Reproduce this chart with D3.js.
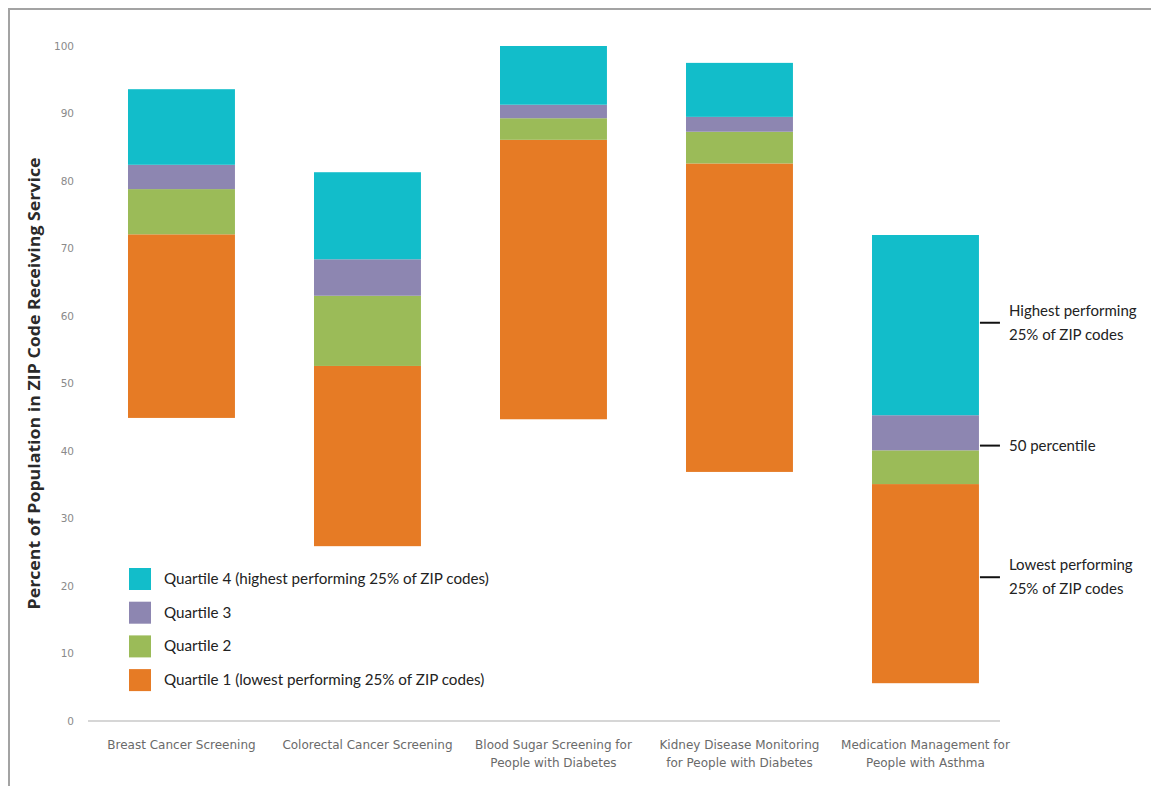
<!DOCTYPE html>
<html><head><meta charset="utf-8">
<script src="https://cdn.jsdelivr.net/npm/d3@7"></script>
<style>
html,body{margin:0;padding:0;background:#fff;}
svg{display:block;}
</style></head>
<body>
<svg id="chart" width="1151" height="786"></svg>
<script>
const categories = [
  ["Breast Cancer Screening"],
  ["Colorectal Cancer Screening"],
  ["Blood Sugar Screening for", "People with Diabetes"],
  ["Kidney Disease Monitoring", "for People with Diabetes"],
  ["Medication Management for", "People with Asthma"]
];
const minValues = [44.9, 25.9, 44.7, 36.9, 5.6];
const p25Values = [72.1, 52.6, 86.1, 82.6, 35.1];
const p50Values = [78.8, 63.0, 89.3, 87.3, 40.1];
const p75Values = [82.4, 68.4, 91.3, 89.5, 45.3];
const maxValues = [93.6, 81.3, 100.0, 97.5, 72.0];
const yTicks = [0, 10, 20, 30, 40, 50, 60, 70, 80, 90, 100];
const legendLabels = [
  "Quartile 4 (highest performing 25% of ZIP codes)",
  "Quartile 3",
  "Quartile 2",
  "Quartile 1 (lowest performing 25% of ZIP codes)"
];
const annotations = [
  {lines: ["Highest performing", "25% of ZIP codes"], value: 59},
  {lines: ["50 percentile"], value: 40.8},
  {lines: ["Lowest performing", "25% of ZIP codes"], value: 21.3}
];
const colors = {q4: "#12bdca", q3: "#8d86b1", q2: "#9bbb58", q1: "#e67b25"};

const svg = d3.select("#chart");

// frame
svg.append("path").attr("d", "M9,786 L9,9 L1151,9").attr("fill", "none")
  .attr("stroke", "#a3a3a3").attr("stroke-width", 2);

const x = d3.scaleBand().domain(d3.range(categories.length))
  .range([90.8, 1016.15]).paddingInner(0.425).paddingOuter(0.2);
const y = d3.scaleLinear().domain([0, 100]).range([721, 46]);

// y tick labels
const yAxis = d3.axisLeft(y).tickValues(yTicks).tickSize(0).tickPadding(0);
const gy = svg.append("g").attr("transform", "translate(74,0)").call(yAxis);
gy.select(".domain").remove();
gy.selectAll("text").attr("font-family", "DejaVu Sans").attr("font-size", 10.5)
  .attr("fill", "#8a8a8a");

// baseline
svg.append("line").attr("x1", 88).attr("x2", 1000).attr("y1", y(0)).attr("y2", y(0))
  .attr("stroke", "#c8c8c8").attr("stroke-width", 1.5);

// y title
svg.append("text")
  .attr("transform", `translate(40,${(y(0)+y(100))/2}) rotate(-90)`)
  .attr("text-anchor", "middle")
  .attr("font-family", "Open Sans").attr("font-weight", "bold").attr("font-size", 15.5)
  .attr("fill", "#2a2a2a")
  .attr("textLength", 452).attr("lengthAdjust", "spacingAndGlyphs")
  .text("Percent of Population in ZIP Code Receiving Service");

// segments
const segs = [];
categories.forEach((c, i) => {
  segs.push({i, lo: minValues[i], hi: p25Values[i], color: colors.q1});
  segs.push({i, lo: p25Values[i], hi: p50Values[i], color: colors.q2});
  segs.push({i, lo: p50Values[i], hi: p75Values[i], color: colors.q3});
  segs.push({i, lo: p75Values[i], hi: maxValues[i], color: colors.q4});
});
svg.append("g").selectAll("rect").data(segs).join("rect")
  .attr("x", d => x(d.i)).attr("width", x.bandwidth())
  .attr("y", d => y(d.hi)).attr("height", d => y(d.lo) - y(d.hi))
  .attr("fill", d => d.color);

// x labels
const gx = svg.append("g");
categories.forEach((lines, i) => {
  const t = gx.append("text").attr("x", x(i) + x.bandwidth()/2).attr("y", 749)
    .attr("text-anchor", "middle").attr("font-family", "DejaVu Sans")
    .attr("font-size", 12).attr("fill", "#6a6a6a");
  lines.forEach((l, k) => t.append("tspan").attr("x", x(i) + x.bandwidth()/2)
    .attr("dy", k === 0 ? 0 : 18).text(l));
});

// legend
const legColors = [colors.q4, colors.q3, colors.q2, colors.q1];
const leg = svg.append("g");
legendLabels.forEach((lab, k) => {
  const yy = 568 + k * 33.7;
  leg.append("rect").attr("x", 129).attr("y", yy).attr("width", 22).attr("height", 22)
    .attr("fill", legColors[k]);
  leg.append("text").attr("x", 164).attr("y", yy + 16)
    .attr("font-family", "Lato").attr("font-size", 15.2).attr("fill", "#222").text(lab);
});

// annotations on the right
const last = categories.length - 1;
const ax = x(last) + x.bandwidth();
annotations.forEach(a => {
  const yy = y(a.value);
  svg.append("line").attr("x1", ax + 1).attr("x2", ax + 21).attr("y1", yy).attr("y2", yy)
    .attr("stroke", "#111").attr("stroke-width", 2);
  const n = a.lines.length;
  a.lines.forEach((l, k) => {
    svg.append("text").attr("x", ax + 30)
      .attr("y", yy + 5 + (k - (n - 1) / 2) * 24)
      .attr("font-family", "Lato").attr("font-size", 15).attr("fill", "#222").text(l);
  });
});
</script>
</body></html>
